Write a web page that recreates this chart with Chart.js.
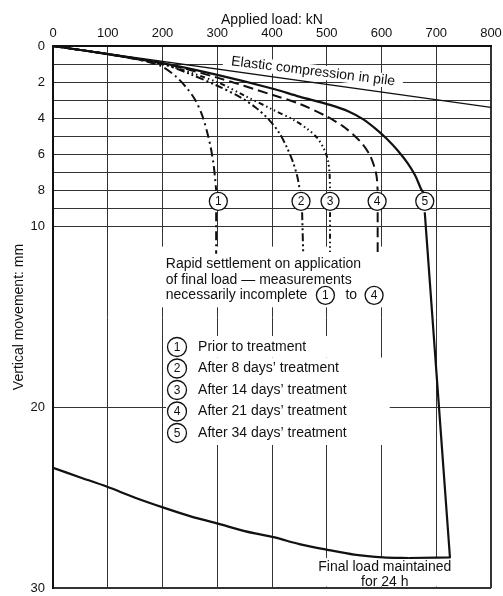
<!DOCTYPE html>
<html>
<head>
<meta charset="utf-8">
<script src="https://cdn.jsdelivr.net/npm/chart.js@4.4.1/dist/chart.umd.min.js"></script>
<style>
  html, body { margin: 0; padding: 0; background: #fff; }
</style>
</head>
<body>
<canvas id="pileChart" width="503" height="596"></canvas>
<script>
// Load test on a pile: applied load (kN) vs vertical movement (mm)
const xTicks = [0, 100, 200, 300, 400, 500, 600, 700, 800];
const yTicks = [0, 1, 2, 3, 4, 5, 6, 7, 8, 9, 10, 20, 30];
const yLabels = [0, 2, 4, 6, 8, 10, 20, 30];

const curveNames = ["Prior to treatment", "After 8 days’ treatment", "After 14 days’ treatment",
  "After 21 days’ treatment", "After 34 days’ treatment"];

const elasticLoad = [0, 800];
const elasticMove = [0, 3.4];

// null = break in the line where the curve number sits
const load1 = [0, 100, 170, 200, 225, 245, 260, 272, 281, 288, 293, 296, 298, 298, 298, 298];
const move1 = [0, 0.45, 0.85, 1.15, 1.7, 2.35, 3.0, 3.8, 4.7, 5.6, 6.5, 7.3, 8.0, null, 9.2, 11.5];

const load2 = [0, 100, 200, 250, 300, 340, 370, 395, 413, 427, 438, 446, 451, 451, 455, 457];
const move2 = [0, 0.45, 1.0, 1.55, 2.2, 2.8, 3.4, 4.1, 4.8, 5.6, 6.4, 7.2, 8.0, null, 9.2, 11.5];

const load3 = [0, 100, 200, 300, 350, 400, 440, 465, 483, 495, 502, 505, 506, 506, 506, 506];
const move3 = [0, 0.45, 1.0, 2.0, 2.75, 3.5, 4.1, 4.6, 5.1, 5.7, 6.3, 7.0, 8.0, null, 9.2, 11.4];

const load4 = [0, 100, 200, 300, 400, 450, 500, 530, 550, 566, 578, 586, 591, 593, 593, 593, 593];
const move4 = [0, 0.45, 0.95, 1.75, 2.7, 3.2, 3.9, 4.45, 4.95, 5.45, 6.0, 6.6, 7.2, 8.0, null, 9.2, 11.4];

// curve 5: loading, final load held 24 h, unloading
const load5 = [0, 100, 200, 300, 400, 450, 506, 540, 566, 590, 610, 630, 648, 662, 672, 676];
const move5 = [0, 0.45, 0.95, 1.6, 2.35, 2.8, 3.26, 3.62, 4.05, 4.6, 5.15, 5.8, 6.5, 7.2, 7.9, 8.1];
const load5Held = [679, 705, 725, 700, 650];
const move5Held = [9.2, 20, 28.3, 28.32, 28.34];
const load5Off = [650, 603, 550, 504, 450, 405, 350, 303, 250, 202, 150, 99, 50, 0];
const move5Off = [28.34, 28.3, 28.15, 27.9, 27.57, 27.2, 26.85, 26.45, 26.02, 25.55, 25.0, 24.4, 23.88, 23.35];

const FONT = '"Liberation Sans", Arial, Helvetica, sans-serif';
const INK = "#111";

function pts(xs, ys) {
  return xs.map((v, i) => ({ x: v, y: ys[i] }));
}

// where the labels go (data units)
const note = {
  rings: { loads: [302, 453, 506, 592, 679], move: 8.6 },
  elastic: { load: 475, move: 1.41, angle: 7, text: "Elastic compression in pile" },
  rapid: { load: 206, moves: [12.1, 12.95, 13.8],
    lines: ["Rapid settlement on application", "of final load — measurements", "necessarily incomplete"] },
  key: { ringLoad: 226.5, textLoad: 265, moves: [16.66, 17.85, 19.04, 20.23, 21.42] },
  final: { load: 606, moves: [28.83, 29.66], lines: ["Final load maintained", "for 24 h"] }
};

function ring(ctx, cx, cy, r, label) {
  ctx.beginPath();
  ctx.arc(cx, cy, r, 0, Math.PI * 2);
  ctx.fillStyle = "#fff";
  ctx.fill();
  ctx.lineWidth = 1.3;
  ctx.strokeStyle = INK;
  ctx.stroke();
  ctx.fillStyle = INK;
  ctx.font = "12px " + FONT;
  ctx.textAlign = "center";
  ctx.textBaseline = "middle";
  ctx.fillText(label, cx, cy + 0.5);
}

const notesPlugin = {
  id: "notes",
  beforeDatasetsDraw(chart) {
    const { ctx, scales: { x, y }, chartArea } = chart;
    ctx.save();
    ctx.fillStyle = "#fff";
    ctx.font = "14px " + FONT;

    // blank the grid behind the elastic label
    const e = note.elastic;
    const ew = ctx.measureText(e.text).width;
    ctx.save();
    ctx.translate(x.getPixelForValue(e.load), y.getPixelForValue(e.move));
    ctx.rotate(e.angle * Math.PI / 180);
    ctx.fillRect(-ew / 2 - 8, -7, ew + 16, 14);
    ctx.restore();

    // rapid settlement block
    const r = note.rapid;
    const rl = x.getPixelForValue(r.load);
    const rw = Math.max(...r.lines.map(t => ctx.measureText(t).width));
    ctx.fillRect(rl - 4, y.getPixelForValue(r.moves[0]) - 18, rw + 30,
      y.getPixelForValue(r.moves[2]) - y.getPixelForValue(r.moves[0]) + 30);

    // key block
    const k = note.key;
    const kl = x.getPixelForValue(k.ringLoad) - 11;
    const kt = x.getPixelForValue(k.textLoad);
    const kw = Math.max(...curveNames.map(t => ctx.measureText(t).width));
    const k0 = y.getPixelForValue(k.moves[0]);
    const k1 = y.getPixelForValue(k.moves[1]);
    const kn = y.getPixelForValue(k.moves[4]);
    ctx.fillRect(kl, k0 - 11, kt + ctx.measureText(curveNames[0]).width + 62 - kl, k1 - k0);
    ctx.fillRect(kl, k1 - 11, kt + kw + 43 - kl, kn - k1 + 23);

    // final load block
    const f = note.final;
    const fc = x.getPixelForValue(f.load);
    const fw = ctx.measureText(f.lines[0]).width;
    const ft = y.getPixelForValue(f.moves[0]) - 9;
    ctx.fillRect(fc - fw / 2 - 4, ft, fw + 8, chartArea.bottom - 1.5 - ft);
    ctx.restore();
  },
  afterDatasetsDraw(chart) {
    const { ctx, scales: { x, y } } = chart;
    ctx.save();

    // numbered rings on the curves
    note.rings.loads.forEach((v, i) => {
      ring(ctx, x.getPixelForValue(v), y.getPixelForValue(note.rings.move), 9, String(i + 1));
    });

    ctx.fillStyle = INK;
    ctx.font = "14px " + FONT;
    ctx.textBaseline = "middle";

    // elastic label along the line
    const e = note.elastic;
    ctx.save();
    ctx.translate(x.getPixelForValue(e.load), y.getPixelForValue(e.move));
    ctx.rotate(e.angle * Math.PI / 180);
    ctx.textAlign = "center";
    ctx.fillText(e.text, 0, 0);
    ctx.restore();

    // rapid settlement note
    const r = note.rapid;
    const rl = x.getPixelForValue(r.load);
    ctx.textAlign = "left";
    r.lines.forEach((t, i) => ctx.fillText(t, rl, y.getPixelForValue(r.moves[i])));
    const ly = y.getPixelForValue(r.moves[2]);
    const endX = rl + ctx.measureText(r.lines[2]).width;
    ring(ctx, endX + 18, ly, 9, "1");
    ctx.fillStyle = INK;
    ctx.font = "14px " + FONT;
    ctx.textAlign = "left";
    ctx.textBaseline = "middle";
    ctx.fillText("to", endX + 38, ly);
    ring(ctx, endX + 38 + ctx.measureText("to").width + 17, ly, 9, "4");

    // key
    const k = note.key;
    curveNames.forEach((t, i) => {
      const ky = y.getPixelForValue(k.moves[i]);
      ring(ctx, x.getPixelForValue(k.ringLoad), ky, 9.5, String(i + 1));
      ctx.fillStyle = INK;
      ctx.font = "14px " + FONT;
      ctx.textAlign = "left";
      ctx.textBaseline = "middle";
      ctx.fillText(t, x.getPixelForValue(k.textLoad), ky);
    });

    // final load note
    const f = note.final;
    ctx.textAlign = "center";
    f.lines.forEach((t, i) => ctx.fillText(t, x.getPixelForValue(f.load), y.getPixelForValue(f.moves[i])));
    ctx.restore();
  }
};

const lineStyle = (dash, width, tension) => ({
  showLine: true,
  pointRadius: 0,
  borderColor: INK,
  borderWidth: width,
  borderDash: dash,
  borderCapStyle: "butt",
  borderJoinStyle: "round",
  tension: tension,
  fill: false
});

new Chart(document.getElementById("pileChart"), {
  type: "scatter",
  data: {
    datasets: [
      { label: "Elastic compression in pile", data: pts(elasticLoad, elasticMove), ...lineStyle([], 1.3, 0) },
      { label: curveNames[0], data: pts(load1, move1), ...lineStyle([9, 4, 2, 4], 2, 0.3) },
      { label: curveNames[1], data: pts(load2, move2), ...lineStyle([8, 3, 2, 3, 2, 3], 2, 0.3) },
      { label: curveNames[2], data: pts(load3, move3), ...lineStyle([5, 3, 1.5, 3, 1.5, 3, 1.5, 3], 2, 0.3) },
      { label: curveNames[3], data: pts(load4, move4), ...lineStyle([10, 5], 2, 0.3) },
      { label: curveNames[4], data: pts(load5, move5), ...lineStyle([], 2.2, 0.3) },
      { label: curveNames[4] + " (24 h)", data: pts(load5Held, move5Held), ...lineStyle([], 2.2, 0) },
      { label: curveNames[4] + " (unload)", data: pts(load5Off, move5Off), ...lineStyle([], 2.2, 0.3) }
    ]
  },
  options: {
    responsive: false,
    animation: false,
    layout: { padding: { left: 0, top: 0, right: 12, bottom: 8 } },
    plugins: { legend: { display: false }, tooltip: { enabled: false } },
    scales: {
      x: {
        type: "linear",
        position: "top",
        min: 0,
        max: 800,
        afterBuildTicks: s => { s.ticks = xTicks.map(v => ({ value: v })); },
        afterFit: s => { s.height = 46; s.paddingLeft = 0; s.paddingRight = 0; },
        ticks: { autoSkip: false, padding: 5, color: INK, font: { family: FONT, size: 13 } },
        grid: { color: "#333", lineWidth: c => (c.tick && c.tick.value === 800 ? 2 : 1), drawTicks: false },
        border: { color: INK, width: 2 },
        title: { display: true, text: "Applied load: kN", color: INK, font: { family: FONT, size: 14 }, padding: { top: 12, bottom: 0 } }
      },
      y: {
        type: "linear",
        reverse: true,
        min: 0,
        max: 30,
        afterBuildTicks: s => { s.ticks = yTicks.map(v => ({ value: v })); },
        afterFit: s => { s.width = 53; s.paddingTop = 0; s.paddingBottom = 0; },
        ticks: {
          autoSkip: false,
          padding: 8,
          color: INK,
          font: { family: FONT, size: 13 },
          callback: v => (yLabels.includes(v) ? String(v) : "")
        },
        grid: { color: "#333", lineWidth: c => (c.tick && c.tick.value === 30 ? 2 : 1), drawTicks: false },
        border: { color: INK, width: 2 },
        title: { display: true, text: "Vertical movement: mm", color: INK, font: { family: FONT, size: 14 }, padding: { top: 11, bottom: 0 } }
      }
    }
  },
  plugins: [notesPlugin]
});
</script>
</body>
</html>
